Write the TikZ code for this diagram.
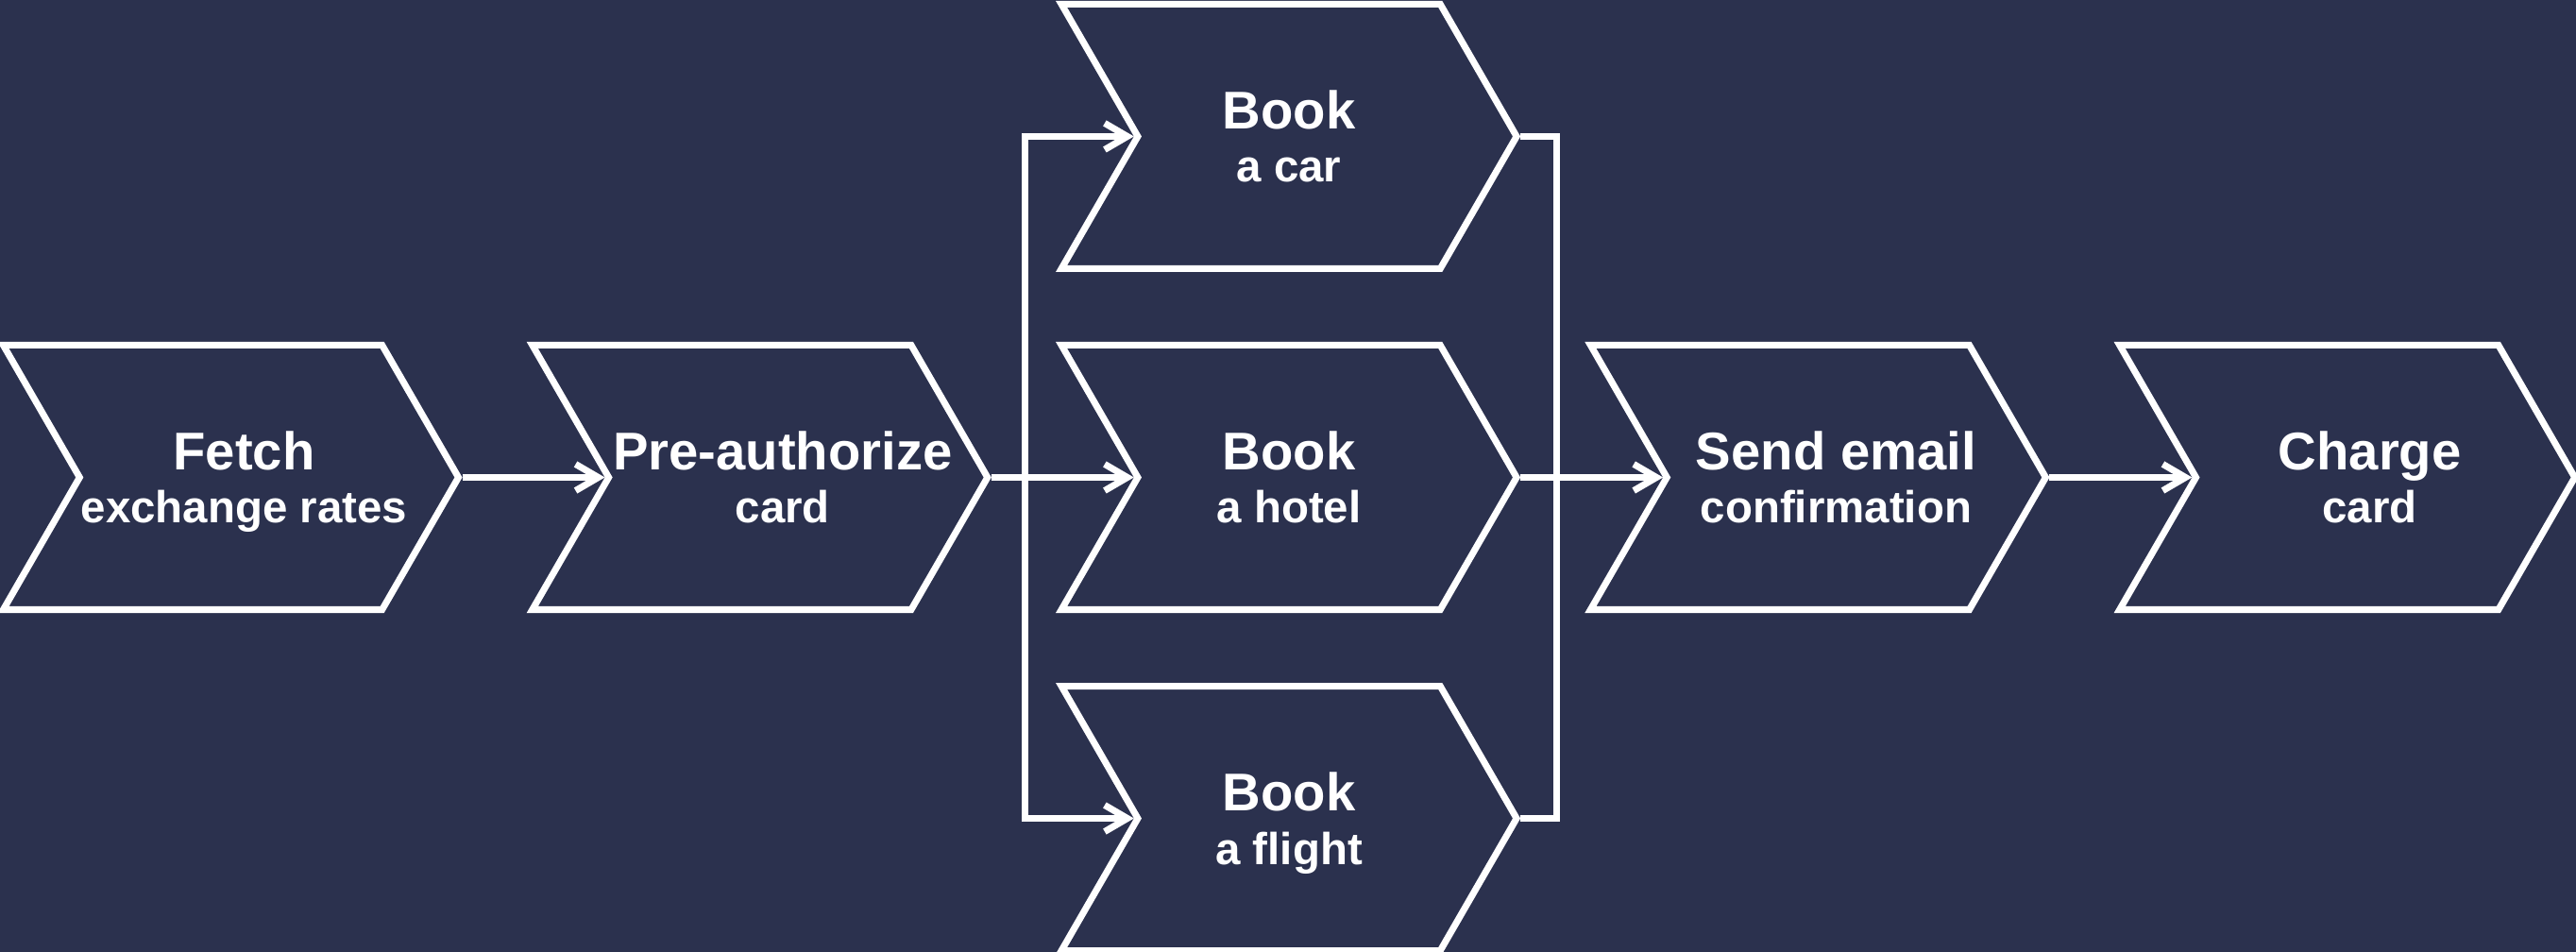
\documentclass[tikz,border=0pt]{standalone}
\usepackage{fontspec}
\setmainfont{Liberation Sans}
\usepackage{tikz}
\usetikzlibrary{positioning, arrows.meta, shapes.symbols, calc}
\usepackage{xcolor}
\definecolor{navybg}{RGB}{43,49,78}

% two-line label of zero width, so every chevron keeps the same size
\newcommand{\steplabel}[3][0pt]{%
  \makebox[0pt]{\hspace*{#1}{\fontsize{16pt}{16pt}\selectfont #2}}\\
  \makebox[0pt]{\hspace*{#1}{\fontsize{13.5pt}{16pt}\selectfont #3}}}

\begin{document}
\begin{tikzpicture}[
  node distance=1.51cm,
  every node/.style={align=center, font=\bfseries\fontsize{16pt}{16pt}\selectfont, text=white},
  stepbox/.style={signal, signal to=east, signal from=west,
                  signal pointer angle=120, draw=white, line width=2pt,
                  minimum width=4.82cm, minimum height=2.8cm,
                  inner sep=0pt, text depth=0pt},
  arrow/.style={-{Straight Barb[length=2.4mm, width=2.8mm]}, line width=2pt, draw=white},
  link/.style={line width=2pt, draw=white}
]

% ---- Background ----
\fill [navybg] (0,0) rectangle (27.28,10.08);
\useasboundingbox (0,0) rectangle (27.28,10.08);

% ---- Main line ----
\node (fetch)   [stepbox] at (2.445,5.025) {\steplabel[0.28cm]{Fetch}{exchange rates}};
\node (preauth) [stepbox, right=of fetch]   {\steplabel[0.48cm]{Pre-authorize}{card}};
\node (hotel)   [stepbox, right=of preauth] {\steplabel{Book}{a hotel}};
\node (email)   [stepbox, right=of hotel]   {\steplabel[0.38cm]{Send email}{confirmation}};
\node (charge)  [stepbox, right=of email]   {\steplabel[0.48cm]{Charge}{card}};

% ---- Parallel bookings ----
\node (car)     [stepbox, above=0.74cm of hotel] {\steplabel{Book}{a car}};
\node (flight)  [stepbox, below=0.74cm of hotel] {\steplabel{Book}{a flight}};

% ---- Split and join ----
\coordinate (split) at ($(preauth.east)+(0.36,0)$);
\coordinate (join)  at ($(hotel.east)+(0.38,0)$);

% ---- Arrows ----
\draw [arrow] (fetch.east) -- (preauth.west);
\draw [link]  (preauth.east) -- (split);
\draw [arrow] (split) |- (car.west);
\draw [arrow] (split) -- (hotel.west);
\draw [arrow] (split) |- (flight.west);
\draw [link]  (car.east) -| (join);
\draw [link]  (hotel.east) -- (join);
\draw [link]  (flight.east) -| (join);
\draw [arrow] (join) -- (email.west);
\draw [arrow] (email.east) -- (charge.west);
\end{tikzpicture}
\end{document}
